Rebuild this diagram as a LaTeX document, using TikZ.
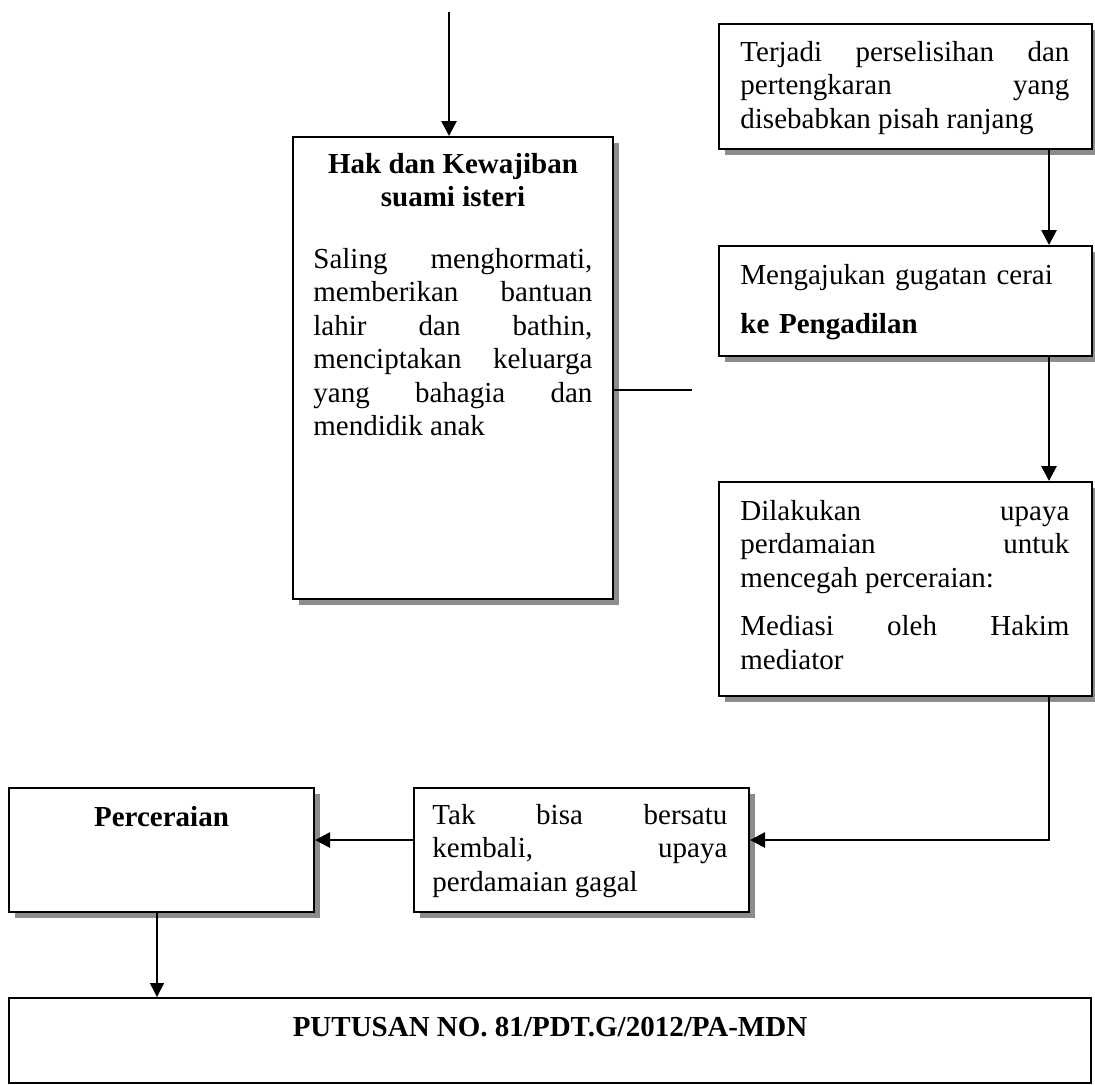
\documentclass[tikz,border=0pt]{standalone}
\usepackage{fontspec}
\setmainfont{Liberation Serif}[WordSpace={1,1,0}]
\usetikzlibrary{shadows}
\usetikzlibrary{arrows.meta}
\hyphenpenalty=10000
\exhyphenpenalty=10000
\tolerance=10000

\tikzset{
    box/.style={draw, line width=1pt, fill=white, inner sep=0pt,
        drop shadow={fill=black!45, opacity=1, shadow xshift=3pt, shadow yshift=-3pt}},
    plainbox/.style={draw, line width=1pt, fill=white, inner sep=0pt},
    txt/.style={inner sep=0pt, font=\fontsize{14.5}{16.75}\selectfont},
    arr/.style={line width=1.35pt, -{Triangle[length=7.5pt,width=7.5pt]}},
    thinarr/.style={line width=0.7pt, -{Triangle[length=7pt,width=7pt]}},
}

\begin{document}
\begin{tikzpicture}[x=0.5pt, y=-0.5pt]
        \useasboundingbox (0,0) rectangle (1095,1084);

        % boxes
        \node[box, minimum width=160pt,   minimum height=231pt]  (hak)      at (453,  368)   {};
        \node[box, minimum width=186.5pt, minimum height=62.5pt] (terjadi)  at (905.5, 86.5) {};
        \node[box, minimum width=186.5pt, minimum height=55pt]   (gugatan)  at (905.5, 301)  {};
        \node[box, minimum width=186.5pt, minimum height=107pt]  (mediasi)  at (905.5, 589)  {};
        \node[box, minimum width=167.5pt, minimum height=62pt]   (tak)      at (581.5, 850)  {};
        \node[box, minimum width=152.5pt, minimum height=62pt]   (cerai)    at (161.5, 850)  {};
        \node[plainbox, minimum width=541pt, minimum height=42.5pt] (putusan) at (550, 1040.5) {};

        % texts
        \node[txt, anchor=north, align=center, font=\fontsize{14.5}{16.75}\selectfont\bfseries] (hakhead)
            at ([yshift=-6.8pt]hak.north) {\strut Hak dan Kewajiban\\suami isteri};
        \node[txt, anchor=north west, text width=139.5pt, align=justify] (hakbody)
            at ([shift={(10.5pt,-54.3pt)}]hak.north west)
            {\strut Saling menghormati,\linebreak memberikan bantuan\linebreak lahir dan bathin,\linebreak menciptakan keluarga\linebreak yang bahagia dan\linebreak mendidik anak};
        \node[txt, anchor=north west, text width=164.5pt, align=justify] (terjaditxt)
            at ([shift={(11pt,-7.3pt)}]terjadi.north west)
            {\strut Terjadi perselisihan dan\linebreak pertengkaran yang\linebreak disebabkan pisah ranjang};
        \node[txt, anchor=north west, text width=164.5pt, align=left] (gugatantxt)
            at ([shift={(11pt,-7.8pt)}]gugatan.north west)
            {\strut Mengajukan gugatan cerai\par\vspace{7.8pt}\textbf{ke Pengadilan}};
        \node[txt, anchor=north west, text width=164.5pt, align=justify] (mediasitxt)
            at ([shift={(11pt,-7.8pt)}]mediasi.north west)
            {\strut Dilakukan upaya\linebreak perdamaian untuk\linebreak mencegah perceraian:\par\vspace{7.5pt}Mediasi oleh Hakim\linebreak mediator};
        \node[txt, anchor=north west, text width=147.5pt, align=justify] (taktxt)
            at ([shift={(9.5pt,-6.8pt)}]tak.north west)
            {\strut Tak bisa bersatu\linebreak kembali, upaya\linebreak perdamaian gagal};
        \node[txt, anchor=north, font=\fontsize{14.5}{16.75}\selectfont\bfseries] (ceraitxt)
            at ([yshift=-7.8pt]cerai.north) {\strut Perceraian};
        \node[txt, anchor=north, font=\fontsize{14.5}{16.75}\selectfont\bfseries] (putusantxt)
            at ([yshift=-7.8pt]putusan.north) {\strut PUTUSAN NO. 81/PDT.G/2012/PA-MDN};

        % connectors
        \coordinate (top)   at (449, 12);
        \coordinate (loose) at (692, 390);
        \coordinate (rx)    at (1049, 840);
        \coordinate (down)  at (157, 912);

        \draw[arr] (top) -- (top |- hak.north);
        \draw[line width=1pt] (hak.east |- loose) -- (loose);
        \draw[arr] (rx |- terjadi.south) -- (rx |- gugatan.north);
        \draw[arr] (rx |- gugatan.south) -- (rx |- mediasi.north);
        \draw[arr] (rx |- mediasi.south) -- (rx) -- (rx -| tak.east);
        \draw[arr] (rx -| tak.west) -- (rx -| cerai.east);
        \draw[thinarr] (down |- cerai.south) -- (down |- putusan.north);
    \end{tikzpicture}
\end{document}
